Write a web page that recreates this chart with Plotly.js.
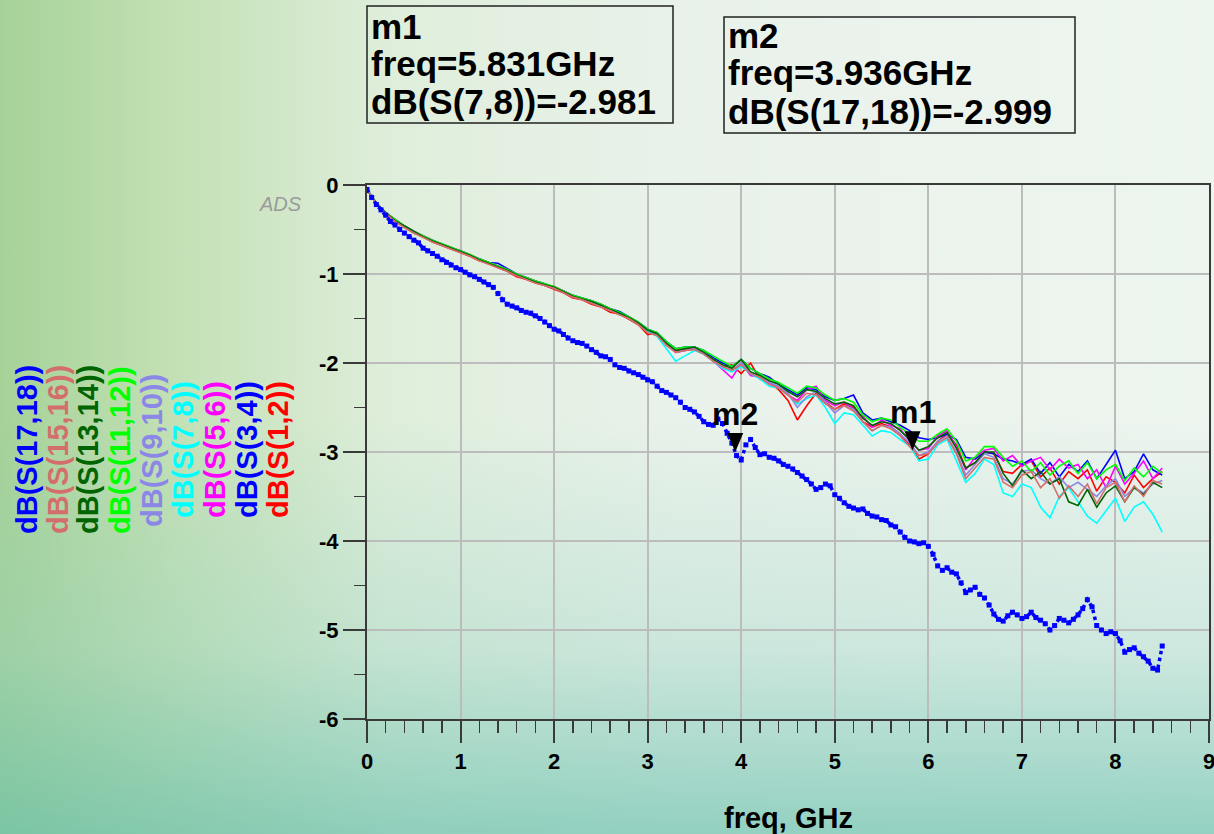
<!DOCTYPE html>
<html>
<head>
<meta charset="utf-8">
<script src="https://cdn.plot.ly/plotly-3.0.1.min.js"></script>
<style>
html,body{margin:0;padding:0;overflow:hidden;}
#chart{width:1214px;height:834px;overflow:hidden;
background:
 linear-gradient(to top, rgba(100,190,170,0.65) 0%, rgba(140,205,190,0.32) 22%, rgba(255,255,255,0) 50%),
 linear-gradient(to right, #a6d298 0%, #c2e0b4 14%, #dfeedb 32%, #e9f2ea 55%, #edf5ef 100%);}
</style>
</head>
<body>
<div id="chart"></div>
<script>
// ---------- data ----------
const freq = [0,0.1,0.2,0.3,0.4,0.5,0.6,0.7,0.8,0.9,
 1.0,1.1,1.2,1.3,1.4,1.5,1.6,1.7,1.8,1.9,
 2.0,2.1,2.2,2.3,2.4,2.5,2.6,2.7,2.8,2.9,
 3.0,3.1,3.2,3.3,3.4,3.5,3.6,3.7,3.8,3.9,
 4.0,4.1,4.2,4.3,4.4,4.5,4.6,4.7,4.8,4.9,
 5.0,5.1,5.2,5.3,5.4,5.5,5.6,5.7,5.8,5.9,
 6.0,6.1,6.2,6.3,6.4,6.5,6.6,6.7,6.8,6.9,
 7.0,7.1,7.2,7.3,7.4,7.5,7.6,7.7,7.8,7.9,
 8.0,8.1,8.2,8.3,8.4,8.5];

const s12 = [-0.05,-0.21,-0.32,-0.41,-0.47,-0.54,-0.58,-0.64,-0.68,-0.72,
 -0.76,-0.80,-0.85,-0.88,-0.93,-0.97,-1.03,-1.06,-1.10,-1.13,
 -1.17,-1.21,-1.27,-1.29,-1.34,-1.37,-1.43,-1.45,-1.51,-1.57,
 -1.68,-1.66,-1.80,-1.86,-1.84,-1.85,-1.90,-1.97,-2.04,-2.02,
 -2.12,-2.00,-2.18,-2.22,-2.30,-2.42,-2.64,-2.48,-2.34,-2.44,
 -2.52,-2.46,-2.50,-2.66,-2.72,-2.68,-2.72,-2.80,-2.92,-3.08,
 -3.02,-2.88,-2.80,-2.92,-3.18,-3.12,-3.00,-3.02,-3.22,-3.24,
 -3.14,-3.10,-3.28,-3.18,-3.36,-3.22,-3.30,-3.20,-3.44,-3.28,
 -3.34,-3.46,-3.26,-3.40,-3.30,-3.22];
const s34 = [-0.05,-0.21,-0.31,-0.40,-0.46,-0.52,-0.58,-0.62,-0.67,-0.71,
 -0.74,-0.79,-0.83,-0.87,-0.88,-0.94,-1.00,-1.04,-1.08,-1.11,
 -1.15,-1.19,-1.24,-1.27,-1.30,-1.34,-1.39,-1.42,-1.48,-1.54,
 -1.62,-1.66,-1.76,-1.84,-1.82,-1.82,-1.86,-1.94,-2.00,-2.04,
 -1.96,-2.06,-2.12,-2.16,-2.24,-2.30,-2.36,-2.28,-2.30,-2.38,
 -2.42,-2.40,-2.36,-2.56,-2.64,-2.62,-2.66,-2.70,-2.76,-2.84,
 -2.86,-2.84,-2.80,-2.86,-3.06,-3.08,-3.00,-3.02,-3.08,-3.10,
 -3.14,-3.08,-3.24,-3.12,-3.28,-3.14,-3.22,-3.10,-3.30,-3.14,
 -2.98,-3.30,-3.22,-3.02,-3.20,-3.26];
const s56 = [-0.05,-0.20,-0.31,-0.39,-0.46,-0.52,-0.57,-0.62,-0.66,-0.70,
 -0.74,-0.78,-0.83,-0.87,-0.91,-0.95,-1.00,-1.04,-1.08,-1.12,
 -1.14,-1.19,-1.24,-1.28,-1.30,-1.35,-1.39,-1.45,-1.48,-1.55,
 -1.64,-1.67,-1.78,-1.88,-1.86,-1.84,-1.88,-1.98,-2.08,-2.17,
 -2.00,-2.14,-2.16,-2.22,-2.28,-2.36,-2.42,-2.30,-2.26,-2.42,
 -2.48,-2.44,-2.52,-2.60,-2.72,-2.64,-2.70,-2.74,-2.88,-2.98,
 -2.96,-2.82,-2.76,-2.94,-3.20,-3.06,-2.98,-2.96,-3.10,-3.04,
 -3.16,-3.10,-3.06,-3.20,-3.08,-3.18,-3.14,-3.30,-3.20,-3.40,
 -3.16,-3.36,-3.24,-3.10,-3.30,-3.18];
const s78 = [-0.05,-0.21,-0.32,-0.40,-0.47,-0.53,-0.58,-0.63,-0.67,-0.71,
 -0.75,-0.79,-0.84,-0.88,-0.92,-0.96,-1.01,-1.05,-1.09,-1.12,
 -1.16,-1.20,-1.25,-1.28,-1.32,-1.36,-1.41,-1.44,-1.50,-1.56,
 -1.64,-1.70,-1.84,-1.98,-1.92,-1.86,-1.90,-1.98,-2.06,-2.10,
 -2.04,-2.12,-2.18,-2.26,-2.28,-2.36,-2.46,-2.40,-2.36,-2.50,
 -2.68,-2.56,-2.58,-2.70,-2.82,-2.76,-2.78,-2.86,-2.93,-3.10,
 -3.08,-2.92,-2.86,-3.10,-3.34,-3.24,-3.08,-3.14,-3.46,-3.50,
 -3.36,-3.40,-3.62,-3.74,-3.50,-3.40,-3.56,-3.72,-3.80,-3.66,
 -3.52,-3.78,-3.62,-3.56,-3.70,-3.90];
const s910 = [-0.05,-0.21,-0.32,-0.40,-0.47,-0.53,-0.58,-0.63,-0.67,-0.71,
 -0.75,-0.79,-0.84,-0.88,-0.92,-0.96,-1.01,-1.05,-1.09,-1.13,
 -1.15,-1.20,-1.25,-1.29,-1.31,-1.36,-1.40,-1.45,-1.49,-1.56,
 -1.63,-1.68,-1.80,-1.88,-1.86,-1.84,-1.88,-1.96,-2.04,-2.08,
 -2.00,-2.10,-2.16,-2.22,-2.26,-2.34,-2.50,-2.38,-2.32,-2.44,
 -2.56,-2.48,-2.52,-2.66,-2.76,-2.70,-2.72,-2.80,-2.90,-3.04,
 -3.00,-2.88,-2.82,-3.00,-3.26,-3.14,-3.02,-3.06,-3.30,-3.36,
 -3.22,-3.20,-3.30,-3.36,-3.28,-3.40,-3.34,-3.42,-3.50,-3.38,
 -3.30,-3.50,-3.40,-3.46,-3.36,-3.32];
const s1112 = [-0.05,-0.20,-0.31,-0.39,-0.46,-0.52,-0.57,-0.62,-0.66,-0.70,
 -0.74,-0.78,-0.83,-0.87,-0.91,-0.95,-1.00,-1.04,-1.08,-1.11,
 -1.14,-1.19,-1.24,-1.27,-1.30,-1.34,-1.39,-1.43,-1.48,-1.54,
 -1.62,-1.66,-1.76,-1.84,-1.82,-1.82,-1.86,-1.92,-1.98,-2.04,
 -1.96,-2.06,-2.12,-2.18,-2.22,-2.28,-2.34,-2.26,-2.28,-2.36,
 -2.42,-2.40,-2.44,-2.58,-2.66,-2.62,-2.64,-2.72,-2.80,-2.88,
 -2.88,-2.80,-2.74,-2.88,-3.10,-3.06,-2.94,-2.94,-3.06,-3.16,
 -3.10,-3.22,-3.12,-3.26,-3.16,-3.10,-3.24,-3.12,-3.30,-3.20,
 -3.14,-3.32,-3.18,-3.28,-3.16,-3.24];
const s1314 = [-0.05,-0.21,-0.31,-0.40,-0.46,-0.52,-0.58,-0.63,-0.67,-0.71,
 -0.75,-0.79,-0.84,-0.88,-0.92,-0.96,-1.01,-1.05,-1.09,-1.12,
 -1.15,-1.20,-1.25,-1.28,-1.31,-1.35,-1.40,-1.44,-1.49,-1.55,
 -1.63,-1.67,-1.78,-1.86,-1.84,-1.82,-1.88,-1.96,-2.02,-2.06,
 -1.96,-2.10,-2.14,-2.20,-2.24,-2.32,-2.38,-2.30,-2.32,-2.40,
 -2.46,-2.44,-2.48,-2.62,-2.70,-2.66,-2.68,-2.76,-2.86,-2.98,
 -2.94,-2.84,-2.78,-2.96,-3.18,-3.12,-3.00,-3.00,-3.24,-3.38,
 -3.20,-3.30,-3.22,-3.36,-3.30,-3.56,-3.60,-3.42,-3.62,-3.46,
 -3.38,-3.56,-3.40,-3.48,-3.34,-3.40];
const s1516 = [-0.05,-0.21,-0.32,-0.41,-0.48,-0.54,-0.59,-0.64,-0.68,-0.72,
 -0.76,-0.80,-0.85,-0.89,-0.93,-0.97,-1.02,-1.06,-1.10,-1.13,
 -1.16,-1.21,-1.26,-1.29,-1.33,-1.37,-1.41,-1.46,-1.50,-1.57,
 -1.66,-1.69,-1.80,-1.88,-1.86,-1.85,-1.90,-1.98,-2.04,-2.08,
 -2.02,-2.12,-2.16,-2.24,-2.28,-2.36,-2.44,-2.34,-2.36,-2.46,
 -2.52,-2.48,-2.54,-2.66,-2.76,-2.70,-2.74,-2.82,-2.94,-3.04,
 -3.02,-2.90,-2.84,-3.02,-3.30,-3.18,-3.06,-3.08,-3.34,-3.40,
 -3.26,-3.22,-3.40,-3.30,-3.52,-3.38,-3.50,-3.36,-3.58,-3.40,
 -3.34,-3.56,-3.38,-3.50,-3.32,-3.36];

const freqFine = [0,0.05,0.1,0.15,0.2,0.25,0.3,0.35,0.4,0.45,0.5,0.55,0.6,0.65,0.7,0.75,0.8,0.85,0.9,0.95,
 1,1.05,1.1,1.15,1.2,1.25,1.3,1.35,1.4,1.45,1.5,1.55,1.6,1.65,1.7,1.75,1.8,1.85,1.9,1.95,
 2,2.05,2.1,2.15,2.2,2.25,2.3,2.35,2.4,2.45,2.5,2.55,2.6,2.65,2.7,2.75,2.8,2.85,2.9,2.95,
 3,3.05,3.1,3.15,3.2,3.25,3.3,3.35,3.4,3.45,3.5,3.55,3.6,3.65,3.7,3.75,3.8,3.85,3.9,3.95,
 4,4.05,4.1,4.15,4.2,4.25,4.3,4.35,4.4,4.45,4.5,4.55,4.6,4.65,4.7,4.75,4.8,4.85,4.9,4.95,
 5,5.05,5.1,5.15,5.2,5.25,5.3,5.35,5.4,5.45,5.5,5.55,5.6,5.65,5.7,5.75,5.8,5.85,5.9,5.95,
 6,6.05,6.1,6.15,6.2,6.25,6.3,6.35,6.4,6.45,6.5,6.55,6.6,6.65,6.7,6.75,6.8,6.85,6.9,6.95,
 7,7.05,7.1,7.15,7.2,7.25,7.3,7.35,7.4,7.45,7.5,7.55,7.6,7.65,7.7,7.75,7.8,7.85,7.9,7.95,
 8,8.05,8.1,8.15,8.2,8.25,8.3,8.35,8.4,8.45,8.5];
const s1718 = [-0.05,-0.14,-0.22,-0.28,-0.34,-0.41,-0.45,-0.50,-0.54,-0.58,-0.62,-0.65,-0.71,-0.74,-0.77,-0.80,-0.84,-0.87,-0.90,-0.93,
 -0.95,-0.98,-1.01,-1.03,-1.06,-1.09,-1.12,-1.15,-1.22,-1.29,-1.34,-1.36,-1.38,-1.41,-1.43,-1.44,-1.47,-1.50,-1.54,-1.58,
 -1.62,-1.64,-1.68,-1.72,-1.75,-1.77,-1.78,-1.81,-1.85,-1.88,-1.92,-1.93,-1.96,-2.02,-2.05,-2.06,-2.09,-2.11,-2.13,-2.16,
 -2.19,-2.21,-2.26,-2.31,-2.33,-2.36,-2.39,-2.44,-2.50,-2.52,-2.55,-2.60,-2.66,-2.69,-2.70,-2.63,-2.68,-2.79,-2.90,-3.04,
 -3.09,-2.92,-2.86,-2.95,-3.03,-3.02,-3.06,-3.07,-3.10,-3.14,-3.16,-3.19,-3.23,-3.27,-3.31,-3.36,-3.42,-3.40,-3.36,-3.38,
 -3.48,-3.52,-3.57,-3.61,-3.63,-3.65,-3.64,-3.69,-3.72,-3.73,-3.76,-3.77,-3.82,-3.84,-3.90,-3.96,-4.00,-4.01,-4.03,-4.02,
 -4.06,-4.15,-4.28,-4.33,-4.30,-4.35,-4.37,-4.47,-4.58,-4.55,-4.52,-4.60,-4.64,-4.72,-4.82,-4.88,-4.90,-4.84,-4.80,-4.83,
 -4.87,-4.85,-4.80,-4.86,-4.89,-4.93,-5.00,-4.95,-4.87,-4.89,-4.92,-4.88,-4.83,-4.76,-4.66,-4.74,-4.95,-5.00,-5.04,-5.02,
 -5.04,-5.12,-5.25,-5.22,-5.20,-5.26,-5.30,-5.35,-5.43,-5.45,-5.18];

const seriesNames = ['dB(S(1,2))','dB(S(3,4))','dB(S(5,6))','dB(S(7,8))','dB(S(9,10))','dB(S(11,12))','dB(S(13,14))','dB(S(15,16))','dB(S(17,18))'];
const seriesColors = ['#ff0000','#0000ff','#ff00ff','#00ffff','#8c86e6','#00ff00','#006400','#d46e6c','#0000ff'];

const xTickVals = [0,1,2,3,4,5,6,7,8,9];
const xTickText = ['0','1','2','3','4','5','6','7','8','9'];
const yTickVals = [-6,-5,-4,-3,-2,-1,0];
const yTickText = ['-6','-5','-4','-3','-2','-1','0'];

const markerNames = ['m1','m2'];
const markerFreq = [5.831, 3.936];
const markerVal = [-2.981, -2.999];
const markerTrace = ['dB(S(7,8))','dB(S(17,18))'];

const xTitle = 'freq, GHz';

// ---------- traces ----------
const groupY = [s12, s34, s56, s78, s910, s1112, s1314, s1516];
const data = [];
groupY.forEach((ys, i) => {
  data.push({x: freq, y: ys, type: 'scatter', mode: 'lines', name: seriesNames[i],
    line: {color: seriesColors[i], width: 1.6}, hoverinfo: 'skip'});
});
data.push({x: freqFine, y: s1718, type: 'scatter', mode: 'lines+markers', name: seriesNames[8],
  line: {color: seriesColors[8], width: 3.5, dash: 'dot'},
  marker: {symbol: 'square', size: 5, color: seriesColors[8]}, hoverinfo: 'skip'});

// ---------- layout helpers ----------
const L = 367, R = 1209, T = 185, B = 719;
const px = v => (v - L) / (R - L);
const py = v => (B - v) / (B - T);
const FONT = 'Liberation Sans, Arial, Helvetica, sans-serif';
const bold = s => '<b>' + s + '</b>';

const annotations = [];
const shapes = [];

// legend as rotated labels (left to right: 17,18 ... 1,2)
const legendX = [27, 58, 88, 120, 152, 183, 215, 247, 278];
for (let k = 0; k < 9; k++) {
  const si = 8 - k;
  annotations.push({xref: 'paper', yref: 'paper', x: px(legendX[k]), y: py(450),
    xanchor: 'center', yanchor: 'middle', showarrow: false, textangle: -90,
    text: bold(seriesNames[si]), font: {family: FONT, size: 29, color: seriesColors[si]}});
}

// marker readout boxes
const boxes = [
  {x0: 367, x1: 673, y0: 6, y1: 123, tx: 369, ty: [27, 63, 101]},
  {x0: 724, x1: 1075, y0: 17, y1: 133, tx: 726, ty: [35, 73, 111]}
];
boxes.forEach((b, i) => {
  shapes.push({type: 'rect', xref: 'paper', yref: 'paper', x0: px(b.x0), x1: px(b.x1), y0: py(b.y1), y1: py(b.y0),
    line: {color: '#222', width: 1.5}, fillcolor: 'rgba(0,0,0,0)'});
  const lines = [markerNames[i], 'freq=' + markerFreq[i].toFixed(3) + 'GHz', markerTrace[i] + '=' + markerVal[i].toFixed(3)];
  lines.forEach((t, j) => {
    annotations.push({xref: 'paper', yref: 'paper', x: px(b.tx), y: py(b.ty[j]), xanchor: 'left', yanchor: 'middle',
      showarrow: false, text: bold(t), font: {family: FONT, size: 35, color: '#000'}});
  });
});

// markers on the plot
for (let i = 0; i < markerNames.length; i++) {
  shapes.push({type: 'path', xref: 'x', yref: 'y', xsizemode: 'pixel', ysizemode: 'pixel',
    xanchor: markerFreq[i], yanchor: markerVal[i], path: 'M-8,19 L8,19 L0,0 Z',
    fillcolor: '#000', line: {width: 0}});
  annotations.push({xref: 'x', yref: 'y', x: markerFreq[i], y: markerVal[i], xanchor: 'center', yanchor: 'bottom',
    yshift: 18, showarrow: false, text: bold(markerNames[i]), font: {family: FONT, size: 32, color: '#000'}});
}

// ADS watermark
annotations.push({xref: 'paper', yref: 'paper', x: px(280), y: py(204), xanchor: 'center', yanchor: 'middle',
  showarrow: false, text: '<i>ADS</i>', font: {family: FONT, size: 20, color: '#9a9a9a'}});

// x axis title
annotations.push({xref: 'paper', yref: 'paper', x: px(788), y: py(818), xanchor: 'center', yanchor: 'middle',
  showarrow: false, text: bold(xTitle), font: {family: FONT, size: 29, color: '#000'}});

const axisCommon = {
  showgrid: true, gridcolor: '#bcbcbc', gridwidth: 2, zeroline: false,
  showline: true, linecolor: '#3a3a3a', linewidth: 2, mirror: true,
  ticks: 'outside', ticklen: 22, tickwidth: 2, tickcolor: '#3a3a3a',
  tickfont: {family: FONT, size: 22, weight: 'bold', color: '#000'},
  tickmode: 'array', fixedrange: true, ticklabeloverflow: 'allow'
};

const layout = {
  width: 1214, height: 834,
  margin: {l: L, r: 1214 - R, t: T, b: 834 - B, pad: 0},
  paper_bgcolor: 'rgba(0,0,0,0)', plot_bgcolor: 'rgba(0,0,0,0)',
  showlegend: false,
  font: {family: FONT, color: '#000'},
  xaxis: Object.assign({}, axisCommon, {range: [0, 9], tickvals: xTickVals, ticktext: xTickText.map(bold),
    minor: {tickmode: 'linear', tick0: 0, dtick: 0.2, ticks: 'outside', ticklen: 12, tickwidth: 1.5, tickcolor: '#3a3a3a', showgrid: false}}),
  yaxis: Object.assign({}, axisCommon, {range: [-6, 0], tickvals: yTickVals, ticktext: yTickText.map(bold),
    minor: {tickmode: 'linear', tick0: 0, dtick: 0.5, ticks: 'outside', ticklen: 11, tickwidth: 1.5, tickcolor: '#3a3a3a', showgrid: false}}),
  annotations: annotations,
  shapes: shapes
};

Plotly.newPlot('chart', data, layout, {displayModeBar: false, staticPlot: true});
</script>
</body>
</html>
